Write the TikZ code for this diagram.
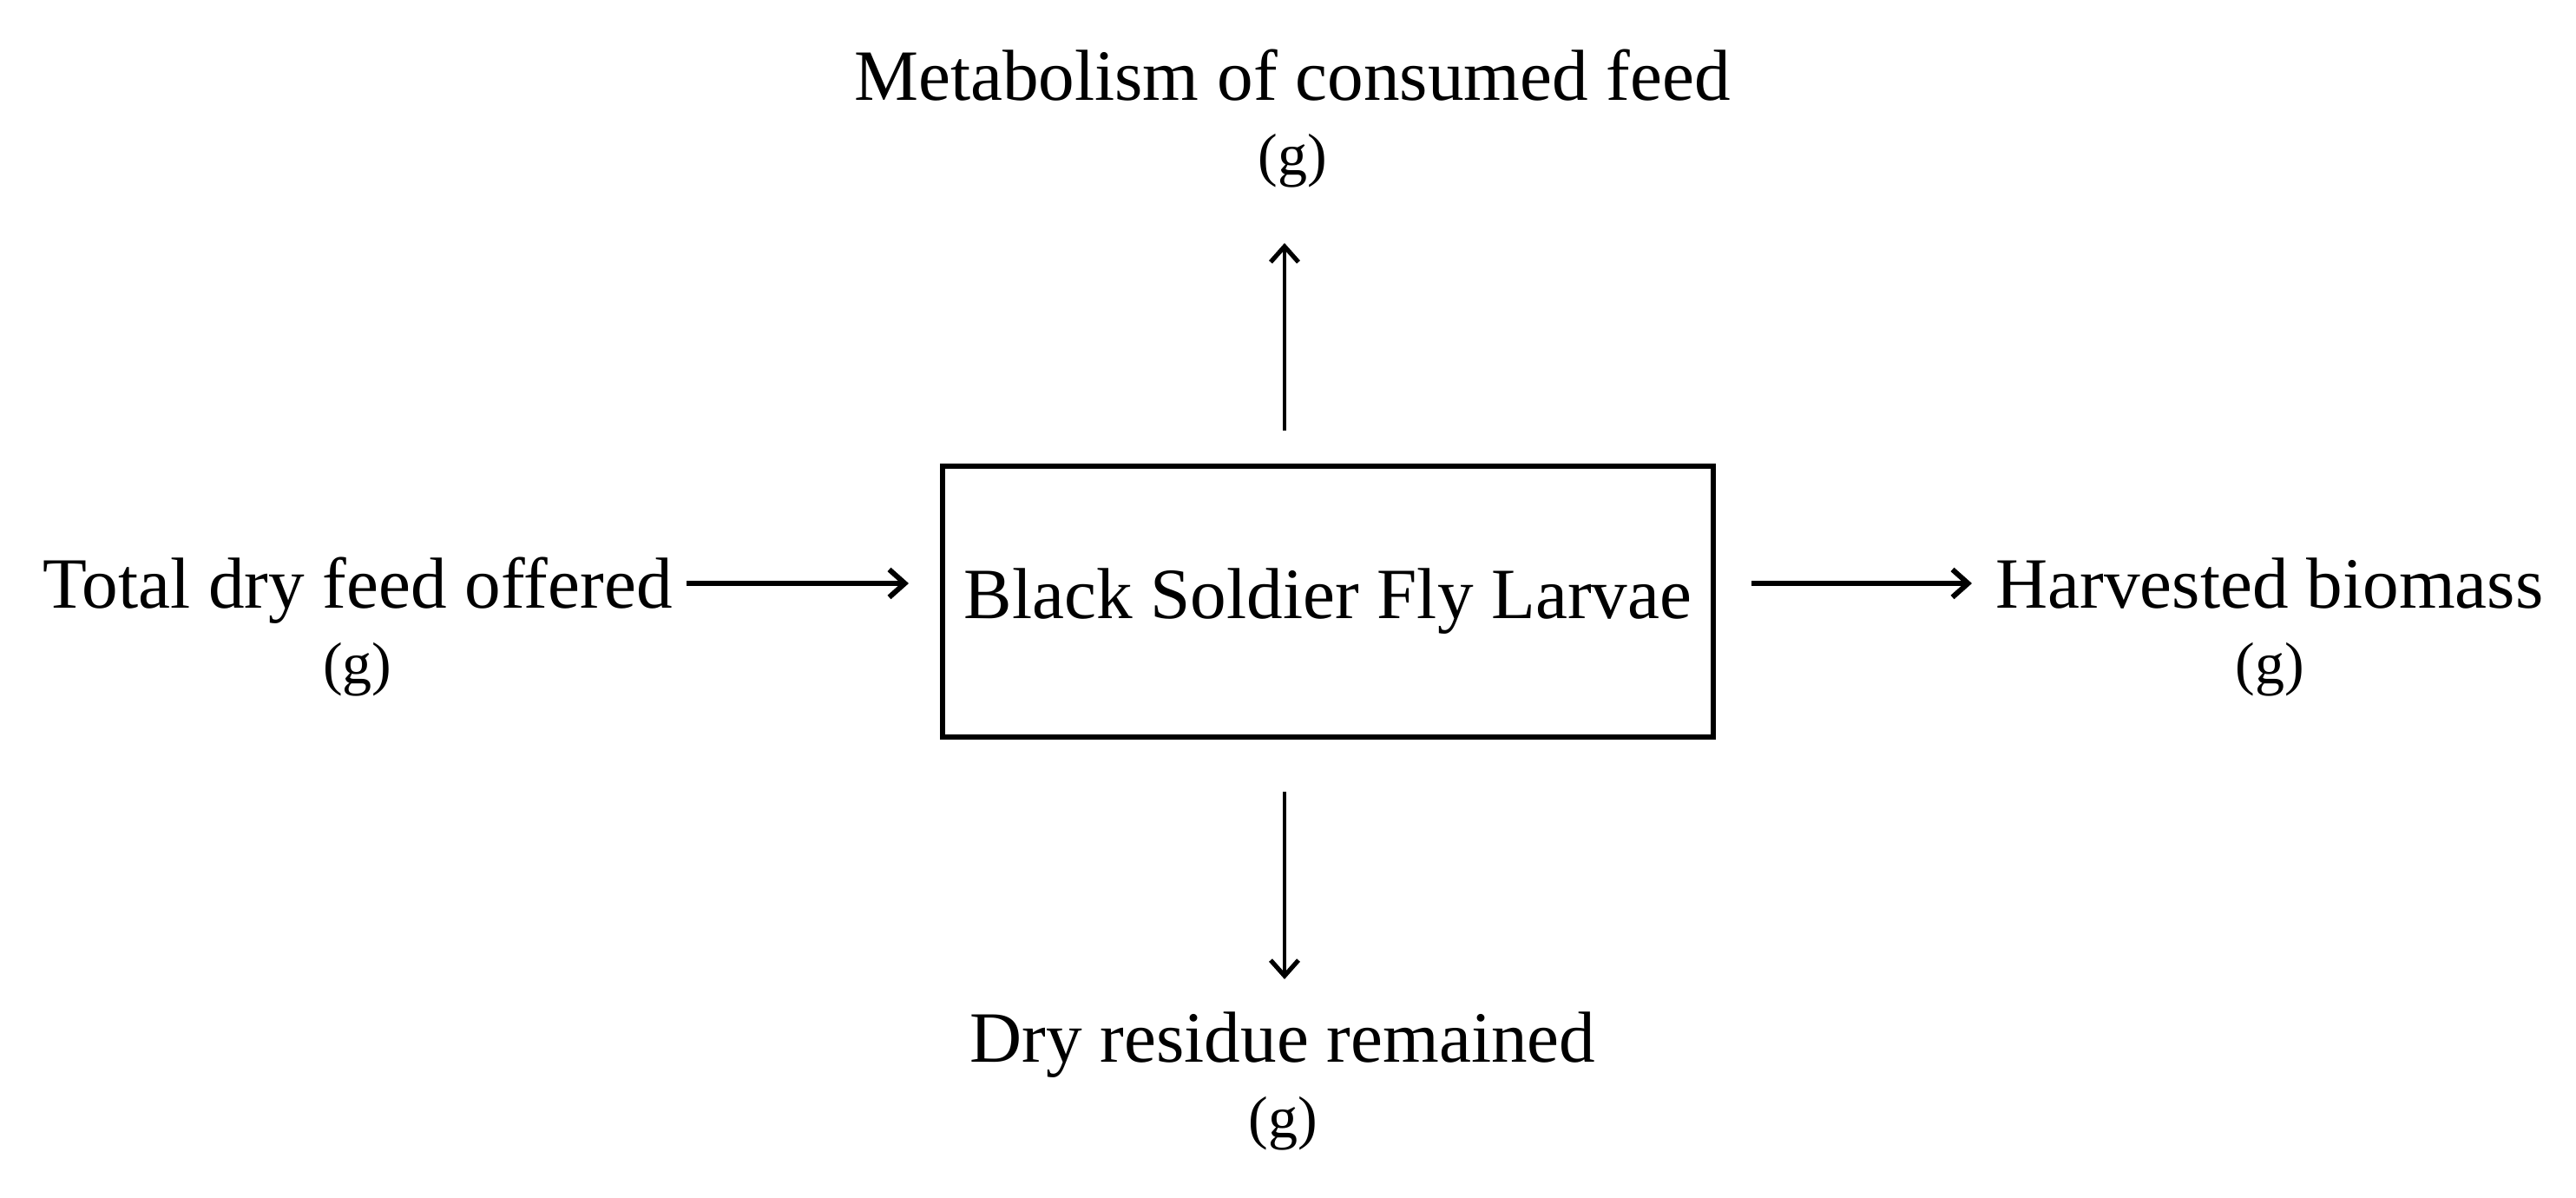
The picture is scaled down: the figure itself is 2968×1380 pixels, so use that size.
\documentclass[tikz,border=0pt]{standalone}
\usepackage{fontspec}
\setmainfont{Liberation Serif}
\usetikzlibrary{arrows.meta}
\newcommand{\unitg}{{\fontsize{17}{21.6}\selectfont(g)}}
\begin{document}
\begin{tikzpicture}[x=0.25pt,y=-0.25pt,
  lbl/.style={inner sep=0pt,align=center,font=\fontsize{20.8}{21.6}\selectfont,anchor=base},
  boxnode/.style={draw,line width=1.6pt,minimum width=222pt,minimum height=78pt,inner sep=0pt,font=\fontsize{20.8}{21.6}\selectfont},
  arrh/.style={line width=1.4pt,-{Straight Barb[length=4.5pt,width=8pt,line width=1.5pt]}},
  arrv/.style={line width=1.1pt,-{Straight Barb[length=4.5pt,width=8pt,line width=1.3pt]}}]
\useasboundingbox (0,0) rectangle (2968,1380);
\node[boxnode] (box) at (1530,693) {Black Soldier Fly Larvae};
\node[lbl] (top) at (1489,202) {Metabolism of consumed feed\\\unitg};
\node[lbl] (left) at (412,787) {Total dry feed offered\\\unitg};
\node[lbl] (right) at (2615,787) {Harvested biomass\\\unitg};
\node[lbl] (bottom) at (1478,1310) {Dry residue remained\\\unitg};
\coordinate (la) at (791,672);
\coordinate (lb) at (1047,672);
\coordinate (ra) at (2018,672);
\coordinate (rb) at (2272,672);
\coordinate (ta) at (1480,496);
\coordinate (tb) at (1480,280);
\coordinate (ba) at (1480,912);
\coordinate (bb) at (1480,1128);
\draw[arrh] (la) -- (lb);
\draw[arrh] (ra) -- (rb);
\draw[arrv] (ta) -- (tb);
\draw[arrv] (ba) -- (bb);
\end{tikzpicture}
\end{document}
